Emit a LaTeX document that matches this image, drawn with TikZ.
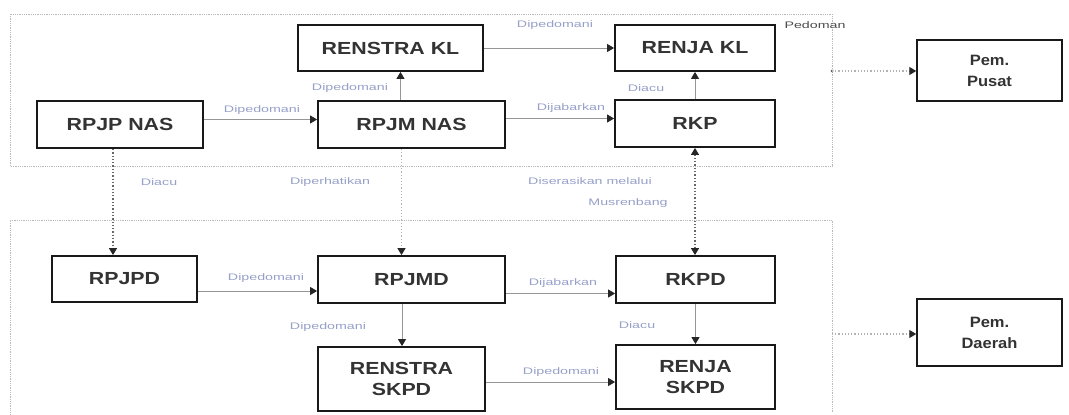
\documentclass[tikz,border=0pt]{standalone}
\usepackage{fontspec}
\setmainfont{Liberation Sans}
\newfontfamily\boxfont[FakeStretch=1.22]{Liberation Sans}
\newfontfamily\pemfont[FakeStretch=1.1]{Liberation Sans}
\newfontfamily\lblfont[FakeStretch=1.5]{Liberation Sans}
\usetikzlibrary{arrows.meta}
\definecolor{labelc}{RGB}{150,160,200}
\definecolor{linec}{RGB}{150,150,150}
\begin{document}
\begin{tikzpicture}[x=1pt,y=-1pt,
  box/.style={draw=black!90, line width=1.8pt, fill=white, inner sep=0pt, align=center,
    font=\boxfont\bfseries\fontsize{17.5}{21}\selectfont, text=black!80},
  pembox/.style={box, line width=1.5pt, font=\pemfont\bfseries\fontsize{15}{21}\selectfont},
  lbl/.style={font=\lblfont\fontsize{9.5}{10}\selectfont, text=labelc, inner sep=0pt},
  tip/.style={-{Triangle[length=7pt,width=8pt,color=black!85]}},
  conn/.style={draw=linec, line width=0.9pt, tip},
  dconn/.style={draw=black!60, line width=1.3pt, dotted, tip},
  lconn/.style={draw=gray!60, line width=1.2pt, dotted, tip},
  frame/.style={draw=gray!55, line width=0.8pt, densely dotted}]
\useasboundingbox (0,0) rectangle (1069,415);
% frames
\draw[frame] (10,14) rectangle (832,166);
\draw[frame] (10,418) -- (10,220) -- (832,220) -- (832,412);
% boxes
\node[box, minimum width=185pt, minimum height=46pt] (renstrakl) at (390.5,48) {RENSTRA KL};
\node[box, minimum width=160pt, minimum height=46pt] (renjakl) at (695,48) {RENJA KL};
\node[box, minimum width=166pt, minimum height=47pt] (rpjp) at (120,124.5) {RPJP NAS};
\node[box, minimum width=187pt, minimum height=47pt] (rpjm) at (411.5,124.5) {RPJM NAS};
\node[box, minimum width=160pt, minimum height=47pt] (rkp) at (695,123.5) {RKP};
\node[pembox, minimum width=145pt, minimum height=61pt] (pusat) at (989.5,70.5) {Pem.\\Pusat};
\node[box, minimum width=145pt, minimum height=46pt] (rpjpd) at (124.5,279) {RPJPD};
\node[box, minimum width=187pt, minimum height=47pt] (rpjmd) at (411.5,279.5) {RPJMD};
\node[box, minimum width=159pt, minimum height=47pt] (rkpd) at (695.5,279.5) {RKPD};
\node[box, minimum width=167pt, minimum height=64pt] (renstraskpd) at (401.5,379) {RENSTRA\\SKPD};
\node[box, minimum width=159pt, minimum height=64pt] (renjaskpd) at (695.5,377) {RENJA\\SKPD};
\node[pembox, minimum width=145pt, minimum height=67pt] (daerah) at (989.5,332.5) {Pem.\\Daerah};
% frame exits
\coordinate (f1) at (832,71);
\coordinate (f2) at (832,334);
\fill[black!70] (f1) circle (1.5pt);
% top connectors
\draw[conn] (renstrakl.east) -- (renjakl.west);
\draw[conn] ([yshift=5pt]rpjp.east) -- ([yshift=5pt]rpjm.west);
\draw[conn] ([xshift=-11pt]rpjm.north) -- ([xshift=-11pt]rpjm.north |- renstrakl.south);
\draw[conn] ([yshift=6pt]rpjm.east) -- ([yshift=6pt]rpjm.east -| rkp.west);
\draw[conn] (rkp.north) -- (renjakl.south);
\draw[lconn] (f1) -- (f1 -| pusat.west);
% vertical links
\draw[dconn] ([xshift=-7pt]rpjp.south) -- ([xshift=-7pt]rpjp.south |- rpjpd.north);
\draw[lconn] ([xshift=-10pt]rpjm.south) -- ([xshift=-10pt]rpjm.south |- rpjmd.north);
\draw[dconn, {Triangle[length=7pt,width=8pt,color=black!85]}-{Triangle[length=7pt,width=8pt,color=black!85]}] (rkp.south) -- (rkp.south |- rkpd.north);
% bottom connectors
\draw[conn] ([yshift=-12pt]rpjpd.east) -- ([yshift=-12pt]rpjpd.east -| rpjmd.west);
\draw[conn] ([yshift=-14pt]rpjmd.east) -- ([yshift=-14pt]rpjmd.east -| rkpd.west);
\draw[conn] ([xshift=-9.5pt]rpjmd.south) -- ([xshift=-9.5pt]rpjmd.south |- renstraskpd.north);
\draw[conn] (rkpd.south) -- (rkpd.south |- renjaskpd.north);
\draw[conn] ([yshift=-3pt]renstraskpd.east) -- ([yshift=-3pt]renstraskpd.east -| renjaskpd.west);
\draw[lconn] (f2) -- (f2 -| daerah.west);
% labels
\node[lbl] (l1) at (555,25) {Dipedomani};
\node[lbl] (l2) at (350,88) {Dipedomani};
\node[lbl] (l3) at (262,110) {Dipedomani};
\node[lbl] (l4) at (571,108) {Dijabarkan};
\node[lbl] (l5) at (646,88) {Diacu};
\node[lbl, text=black!70] (l6) at (815,25) {Pedoman};
\node[lbl] (l7) at (159,182) {Diacu};
\node[lbl] (l8) at (330,182) {Diperhatikan};
\node[lbl] (l9) at (590,181) {Diserasikan melalui};
\node[lbl] (l10) at (628,203) {Musrenbang};
\node[lbl] (l11) at (266,278) {Dipedomani};
\node[lbl] (l12) at (563,283) {Dijabarkan};
\node[lbl] (l13) at (328,327) {Dipedomani};
\node[lbl] (l14) at (637,325) {Diacu};
\node[lbl] (l15) at (561,372) {Dipedomani};
\end{tikzpicture}
\end{document}
